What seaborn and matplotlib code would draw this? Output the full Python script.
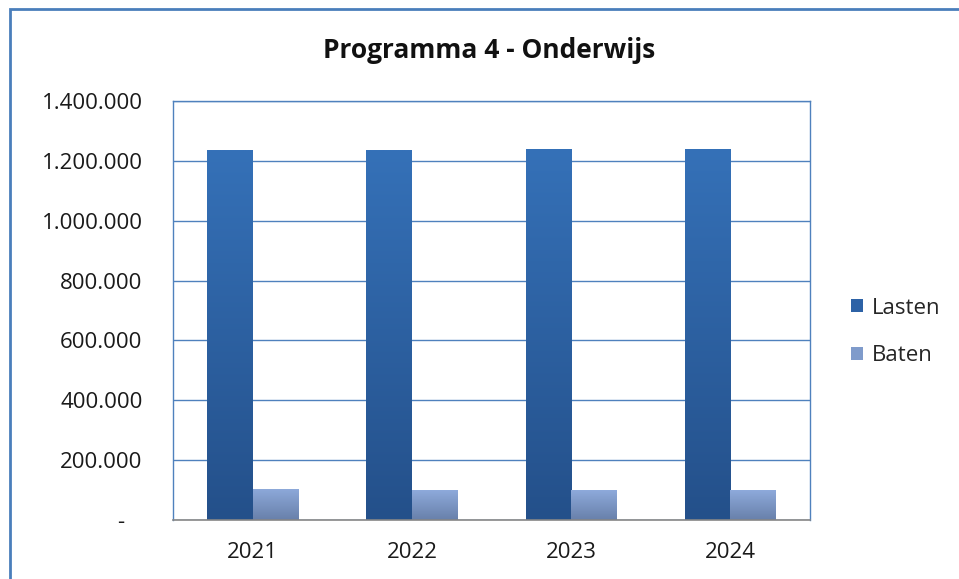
import numpy as np
import pandas as pd
import matplotlib
matplotlib.use('Agg')
import matplotlib.pyplot as plt
import seaborn as sns
from matplotlib.ticker import FuncFormatter, MultipleLocator
from matplotlib.patches import Rectangle, Patch
from matplotlib.colors import LinearSegmentedColormap

# data
jaren = ['2021', '2022', '2023', '2024']
lasten = [1236000, 1236000, 1240000, 1240000]
baten = [105000, 100000, 100000, 100000]
soorten = ['Lasten', 'Baten']

df = pd.DataFrame({
    'Jaar': jaren * 2,
    'Bedrag': lasten + baten,
    'Soort': ['Lasten'] * len(jaren) + ['Baten'] * len(jaren),
})

# top / bottom colours of the gradient fill
kleuren = {'Lasten': ('#3571b8', '#24508a'), 'Baten': ('#8eaadb', '#6880aa')}
legenda_kleuren = ['#2d62a6', '#7f9bcb']

sns.set_style('white')
plt.rcParams['font.family'] = ['Open Sans', 'DejaVu Sans']

W, H = 959, 579
fig = plt.figure(figsize=(W / 100, H / 100), dpi=100)
ax = fig.add_axes([173 / W, 59 / H, 637 / W, 419 / H])

sns.barplot(data=df, x='Jaar', y='Bedrag', hue='Soort', hue_order=soorten,
            palette=[kleuren[s][1] for s in soorten], width=0.57,
            saturation=1, ax=ax, legend=False)

# gradient fill clipped to each bar
grad = np.linspace(0, 1, 256).reshape(-1, 1)
for cont, soort in zip(ax.containers, soorten):
    cmap = LinearSegmentedColormap.from_list(soort, [kleuren[soort][1], kleuren[soort][0]])
    for bar in cont:
        x, y = bar.get_x(), bar.get_y()
        w, h = bar.get_width(), bar.get_height()
        bar.set_edgecolor('none')
        im = ax.imshow(grad, cmap=cmap, origin='lower', aspect='auto',
                       extent=[x, x + w, y, y + h], zorder=bar.get_zorder() + 0.1)
        im.set_clip_path(bar)

ax.set_xlim(-0.5, 3.5)
ax.set_ylim(0, 1400000)
ax.yaxis.set_major_locator(MultipleLocator(200000))
ax.yaxis.set_major_formatter(FuncFormatter(
    lambda v, p: '-   ' if v == 0 else f'{int(v):,}'.replace(',', '.')))
ax.set_xlabel('')
ax.set_ylabel('')
ax.set_axisbelow(True)
ax.yaxis.grid(True, color='#4f81bd', lw=1)
for side in ['left', 'top', 'right']:
    ax.spines[side].set_color('#4f81bd')
    ax.spines[side].set_linewidth(1)
ax.spines['bottom'].set_color('#868686')
ax.spines['bottom'].set_linewidth(1.2)
ax.tick_params(axis='y', length=0, pad=22, labelsize=16, labelcolor='#1a1a1a')
ax.tick_params(axis='x', length=0, pad=16, labelsize=16, labelcolor='#1a1a1a')

fig.text(489 / W, 1 - 50 / H, 'Programma 4 - Onderwijs', ha='center', va='center',
         fontsize=19, fontweight='bold', color='#111111')

handles = [Patch(facecolor=c, edgecolor='none') for c in legenda_kleuren]
fig.legend(handles, soorten, loc='center left', bbox_to_anchor=(851 / W, 1 - 332 / H),
           frameon=False, fontsize=16, handlelength=0.55, handleheight=0.55,
           handletextpad=0.4, labelspacing=1.2, borderpad=0, borderaxespad=0)

# outer chart border (only left and top visible in the reference)
fig.patches.append(Rectangle((10 / W, -0.1), 1.2, 1.1 - 9 / H, transform=fig.transFigure,
                             fill=False, edgecolor='#4a7ebb', lw=2))

fig.savefig('out.png', dpi=100)
